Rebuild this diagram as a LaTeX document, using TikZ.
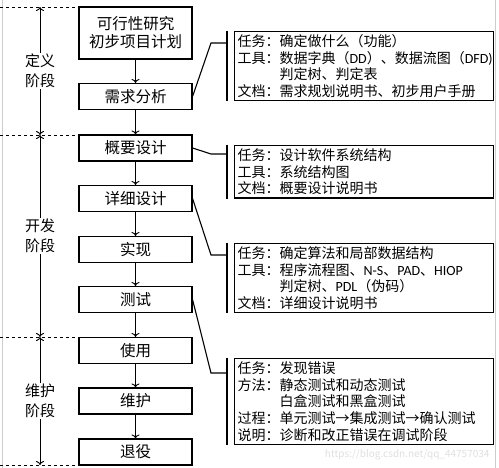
\documentclass[tikz,border=0pt]{standalone}
\usepackage{fontspec}
\setmainfont{Noto Sans CJK SC}
\newfontfamily\lat{Carlito}
\usepackage{tikz}
\usetikzlibrary{arrows.meta,positioning}

\begin{document}
\begin{tikzpicture}[x=1pt,y=-1pt]
\tikzstyle{every node}+=[font=\fontsize{14}{16.7}\selectfont]
\tikzstyle{stage}=[draw,line width=1.1pt,minimum width=113pt,minimum height=26pt,inner sep=0pt,font=\fontsize{15.5}{18}\selectfont,align=center]
\tikzstyle{info}=[draw,line width=1.1pt,anchor=north west,text width=253pt,inner sep=3pt,align=left]
\tikzstyle{flow}=[line width=0.9pt,-{To[length=4pt,width=8pt]}]
\tikzstyle{span}=[line width=0.9pt,{To[length=4pt,width=8pt]}-{To[length=4pt,width=8pt]}]
\tikzstyle{phase}=[fill=white,inner sep=1pt,font=\fontsize{15}{20}\selectfont,align=center]
\tikzstyle{limit}=[dashed,line width=0.9pt]
\tikzstyle{bracket}=[line width=1.1pt]
\useasboundingbox (0,0) rectangle (499,468);
\draw [gray!40] (2,0) -- (2,468);
\draw [gray!40] (495,0) -- (495,468);
% left column
\node [stage,minimum height=52pt] (feas) at (135.5,33) {可行性研究\\初步项目计划};
\node [stage] (req) at (135.5,96.5) {需求分析};
\node [stage] (outline) at (135.5,148) {概要设计};
\node [stage] (detail) at (135.5,198.5) {详细设计};
\node [stage] (impl) at (135.5,249.5) {实现};
\node [stage] (test) at (135.5,299.5) {测试};
\node [stage] (use) at (135.5,350.5) {使用};
\node [stage] (maint) at (135.5,401) {维护};
\node [stage] (retire) at (135.5,452) {退役};
\draw [flow] (feas) -- (req);
\draw [flow] (req) -- (outline);
\draw [flow] (outline) -- (detail);
\draw [flow] (detail) -- (impl);
\draw [flow] (impl) -- (test);
\draw [flow] (test) -- (use);
\draw [flow] (use) -- (maint);
\draw [flow] (maint) -- (retire);
% phases
\coordinate (b0) at (40,7);
\coordinate (b1) at (40,135);
\coordinate (b2) at (40,337);
\coordinate (b3) at (40,465);
\draw [limit] (0,7) -- (77,7);
\draw [limit] (0,135) -- (77,135);
\draw [limit] (0,337) -- (77,337);
\draw [limit] (0,465) -- (77,465);
\draw [span] (b0) -- (b1) node [phase,midway] (pdef) {定义\\阶段};
\draw [span] (b1) -- (b2) node [phase,midway] (pdev) {开发\\阶段};
\draw [span] (b2) -- (b3) node [phase,midway] (pmnt) {维护\\阶段};
% right column
\node [info] (treq) at (234,31) {任务：确定做什么（功能）\\工具：数据字典（{\lat DD}）、数据流图（{\lat DFD)}\\\hphantom{工具：}判定树、判定表\\文档：需求规划说明书、初步用户手册};
\node [info] (toutline) at (234,145) {任务：设计软件系统结构\\工具：系统结构图\\文档：概要设计说明书};
\node [info] (tdetail) at (234,243) {任务：确定算法和局部数据结构\\工具：程序流程图、{\lat N-S}、{\lat PAD}、{\lat HIOP}\\\hphantom{工具：}判定树、{\lat PDL}（伪码）\\文档：详细设计说明书};
\node [info] (ttest) at (234,358) {任务：发现错误\\方法：静态测试和动态测试\\\hphantom{方法：}白盒测试和黑盒测试\\过程：单元测试→集成测试→确认测试\\说明：诊断和改正错误在调试阶段};
\foreach \t/\s/\d in {treq/req/12,toutline/outline/9,tdetail/detail/12,ttest/test/15}{
  \draw [bracket] ([xshift=-7pt]\t.north west) -- ([xshift=-7pt]\t.south west);
  \coordinate (j\t) at ([shift={(-7,\d)}]\t.north west);
  \draw [bracket] (\s.east) -- ([xshift=-16pt]j\t) -- (j\t);
}
\node [text=gray!25,font=\fontsize{10}{12}\selectfont,anchor=east] (mark) at (493,455) {https://blog.csdn.net/qq\_44757034};
\end{tikzpicture}
\end{document}
